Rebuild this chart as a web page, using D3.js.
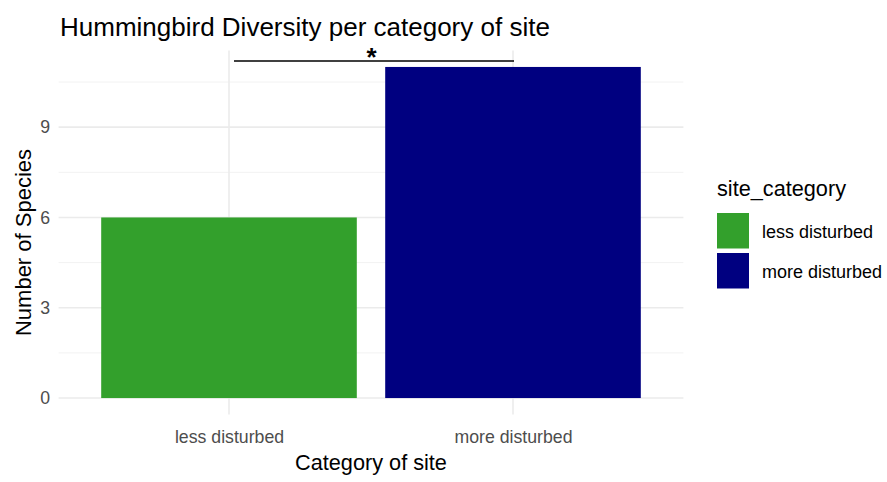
<!DOCTYPE html>
<html><head><meta charset="utf-8">
<script src="https://cdn.jsdelivr.net/npm/d3@7"></script>
<style>body{margin:0;background:#fff;} svg{display:block;font-family:"Liberation Sans",Arial,sans-serif;}</style>
</head><body>
<script>
const categories = ["less disturbed", "more disturbed"];
const species = [6, 11];
const colors = ["#33a02c", "#000080"];
const yTicks = [0, 3, 6, 9];
const yMinor = [1.5, 4.5, 7.5, 10.5];
const sigLevel = 11.2;
const sigLabel = "*";

const W = 887, H = 482;
const FONT = "Liberation Sans, Arial, sans-serif";
const svg = d3.select("body").append("svg").attr("width", W).attr("height", H);
const panel = {l: 58.6, r: 683.4, t: 50.4, b: 414.6};

const step = (panel.r - panel.l) / (categories.length - 1 + 1.2);
const xc = d3.scalePoint().domain(categories).range([panel.l + 0.6*step, panel.r - 0.6*step]);
const bw = 0.9 * step;
const y = d3.scaleLinear().domain([-0.55, 11.55]).range([panel.b, panel.t]);

const g = svg.append("g");
g.selectAll(".minor").data(yMinor).enter().append("line")
  .attr("x1", panel.l).attr("x2", panel.r).attr("y1", d=>y(d)).attr("y2", d=>y(d))
  .attr("stroke", "#f2f2f2").attr("stroke-width", 1);
g.selectAll(".major").data(yTicks).enter().append("line")
  .attr("x1", panel.l).attr("x2", panel.r).attr("y1", d=>y(d)).attr("y2", d=>y(d))
  .attr("stroke", "#ebebeb").attr("stroke-width", 1.6);
g.selectAll(".vmajor").data(categories).enter().append("line")
  .attr("x1", d=>xc(d)).attr("x2", d=>xc(d)).attr("y1", panel.t).attr("y2", panel.b)
  .attr("stroke", "#ebebeb").attr("stroke-width", 1.6);

g.selectAll(".bar").data(categories).enter().append("rect")
  .attr("x", d=>xc(d)-bw/2).attr("width", bw)
  .attr("y", (d,i)=>y(species[i])).attr("height", (d,i)=>y(0)-y(species[i]))
  .attr("fill", (d,i)=>colors[i]);

const yAxis = d3.axisLeft(y).tickValues(yTicks).tickSize(0).tickPadding(8.5);
const ya = svg.append("g").attr("transform", `translate(${panel.l},0)`).call(yAxis);
ya.select(".domain").remove();
ya.selectAll("text").style("font-size", "17.7px").style("fill", "#4d4d4d").style("font-family", FONT);

const xAxis = d3.axisBottom(xc).tickSize(0).tickPadding(0);
const xa = svg.append("g").attr("transform", `translate(0,${panel.b})`).call(xAxis);
xa.select(".domain").remove();
xa.selectAll("text").attr("dy", null).attr("y", 443 - panel.b)
  .style("font-size", "17.7px").style("fill", "#4d4d4d").style("font-family", FONT);

svg.append("line").attr("x1", xc(categories[0])+5).attr("x2", xc(categories[1])+1).attr("y1", y(sigLevel)).attr("y2", y(sigLevel))
  .attr("stroke", "#000").attr("stroke-width", 1.5);
svg.append("text").attr("x", (xc(categories[0])+xc(categories[1]))/2 + 0.5).attr("y", y(sigLevel) + 5.5)
  .attr("text-anchor", "middle").style("font-size", "26px").style("font-weight", "bold").attr("fill", "#000").text(sigLabel);

svg.append("text").attr("x", 60).attr("y", 36).style("font-size", "26px").attr("fill", "#000")
  .text("Hummingbird Diversity per category of site");
svg.append("text").attr("x", (panel.l+panel.r)/2).attr("y", 470).attr("text-anchor", "middle")
  .style("font-size", "21.7px").attr("fill", "#000").text("Category of site");
svg.append("text").attr("transform", `translate(31,${(panel.t+panel.b)/2 + 10}) rotate(-90)`).attr("text-anchor", "middle")
  .style("font-size", "22px").attr("fill", "#000").text("Number of Species");

const lg = svg.append("g").attr("transform", "translate(717,0)");
lg.append("text").attr("x", 0).attr("y", 196).style("font-size", "21.7px").attr("fill", "#000").text("site_category");
categories.forEach((c,i)=>{
  lg.append("rect").attr("x", 0).attr("y", 213 + i*40).attr("width", 32).attr("height", 35.5).attr("fill", colors[i]);
  lg.append("text").attr("x", 45).attr("y", 232 + i*39.5).attr("dy", "0.35em").style("font-size", "18px").attr("fill", "#000").text(c);
});
</script>
</body></html>
